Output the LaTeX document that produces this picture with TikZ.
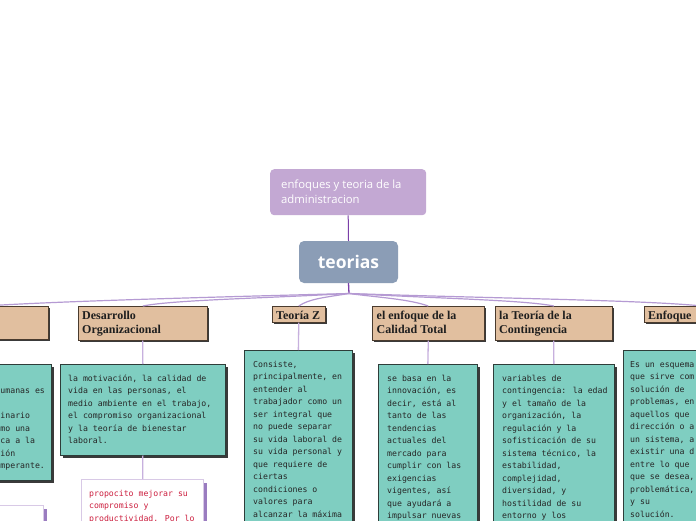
\documentclass[tikz,border=0pt]{standalone}
\usepackage{fontspec}
\setmainfont{Liberation Serif}
\newfontfamily\monof{DejaVu Sans Mono}
\newfontfamily\opensans{Open Sans}
\usetikzlibrary{shadows,calc}
\definecolor{rootc}{HTML}{C3A8D3}
\definecolor{teorc}{HTML}{8B9DB6}
\definecolor{tanfill}{HTML}{E1BF9F}
\definecolor{tanline}{HTML}{4A3B2E}
\definecolor{tealfill}{HTML}{7FCEC1}
\definecolor{tealline}{HTML}{2E3D39}
\definecolor{shadowc}{HTML}{3A3A3A}
\definecolor{txtc}{HTML}{262626}
\definecolor{pinkc}{HTML}{CC1F3F}
\definecolor{wline}{HTML}{D8C9E6}
\definecolor{wshadow}{HTML}{9A7CC0}
\definecolor{connc}{HTML}{C7B0DE}
\definecolor{fanc}{HTML}{B59AD3}
\definecolor{darkp}{HTML}{7B3FA8}
\begin{document}
\begin{tikzpicture}[x=1pt,y=-1pt,
  tanbox/.style={draw=tanline, line width=0.6pt, fill=tanfill, anchor=north west, inner sep=0pt,
    drop shadow={shadow xshift=1.8pt, shadow yshift=-1.8pt, fill=shadowc, opacity=1}},
  tealbox/.style={draw=tealline, line width=0.7pt, fill=tealfill, anchor=north west, inner sep=0pt,
    drop shadow={shadow xshift=2.2pt, shadow yshift=-2.2pt, fill=shadowc, opacity=1}},
  whitebox/.style={draw=wline, line width=1.4pt, fill=white, anchor=north west, inner sep=0pt,
    drop shadow={shadow xshift=2.8pt, shadow yshift=-2.8pt, fill=wshadow, opacity=1}},
  hdr/.style={anchor=north west, inner sep=0pt, align=left, text=black!88,
    font=\bfseries\fontsize{12}{14.5}\selectfont},
  bodytxt/.style={anchor=north west, inner sep=0pt, align=left, text=txtc,
    font=\monof\fontsize{8.2}{12.5}\selectfont},
  pinktxt/.style={bodytxt, text=pinkc},
  conn/.style={draw=connc, line width=1.3pt},
  fan/.style={draw=fanc, line width=1.2pt},
]
\useasboundingbox (0,0) rectangle (696,520);
\clip (0,0) rectangle (696,520);
\fill[white] (0,0) rectangle (696,520);

% root and center
\node[fill=rootc, rounded corners=4pt, anchor=north west, minimum width=156pt, minimum height=46pt, inner sep=0pt] (root) at (270,169) {};
\node[anchor=north west, inner sep=0pt, align=left, text=white, font=\opensans\fontsize{11.3}{15}\selectfont] (roottxt) at (281,178) {\strut enfoques y teoria de la\\administracion};
\node[fill=teorc, rounded corners=5pt, minimum width=99pt, minimum height=42pt, inner sep=0pt, text=white, font=\opensans\bfseries\fontsize{17.5}{20}\selectfont] (teorias) at (348.5,262) {teorias};
\coordinate (hub) at (349,293.5);

% headers
\node[tanbox, minimum width=128pt, minimum height=33pt] (h0) at (-80,306) {};
\node[tanbox, minimum width=129pt, minimum height=34pt] (h1) at (78,306) {};
\node[tanbox, minimum width=53pt, minimum height=16pt] (h2) at (272,306) {};
\node[tanbox, minimum width=112pt, minimum height=34pt] (h3) at (372,306) {};
\node[tanbox, minimum width=117pt, minimum height=34pt] (h4) at (495,306) {};
\node[tanbox, minimum width=116pt, minimum height=16pt] (h5) at (644,306) {};

\node[hdr] (t1) at ([shift={(4,2.9)}]h1.north west) {\strut Desarrollo\\Organizacional};
\node[hdr] (t2) at ([shift={(4,2.9)}]h2.north west) {\strut Teoría Z};
\node[hdr] (t3) at ([shift={(4.5,2.9)}]h3.north west) {\strut el enfoque de la\\Calidad Total};
\node[hdr] (t4) at ([shift={(4,2.9)}]h4.north west) {\strut la Teoría de la\\Contingencia};
\node[hdr] (t5) at ([shift={(4,2.9)}]h5.north west) {\strut Enfoque};

% teal boxes
\node[tealbox, minimum width=166pt, minimum height=116pt] (b0) at (-115,364) {};
\node[tealbox, minimum width=165pt, minimum height=91pt] (b1) at (60,364) {};
\node[tealbox, minimum width=108pt, minimum height=190pt] (b2) at (244,350) {};
\node[tealbox, minimum width=99pt, minimum height=180pt] (b3) at (378,364) {};
\node[tealbox, minimum width=121pt, minimum height=180pt] (b4) at (493,364) {};
\node[tealbox, minimum width=160pt, minimum height=190pt] (b5) at (623,350) {};

\node[bodytxt] (x0) at (0.3,372.25) {\strut\\umanas es\\\strut\\inario\\mo una\\ca a la\\ión\\mperante.};
\node[bodytxt] (x1) at ([shift={(8,8.25)}]b1.north west) {\strut la motivación, la calidad de\\vida en las personas, el\\medio ambiente en el trabajo,\\el compromiso organizacional\\y la teoría de bienestar\\laboral.};
\node[bodytxt] (x2) at ([shift={(9,8.25)}]b2.north west) {\strut Consiste,\\principalmente, en\\entender al\\trabajador como un\\ser integral que\\no puede separar\\su vida laboral de\\su vida personal y\\que requiere de\\ciertas\\condiciones o\\valores para\\alcanzar la máxima};
\node[bodytxt] (x3) at ([shift={(9,8.25)}]b3.north west) {\strut se basa en la\\innovación, es\\decir, está al\\tanto de las\\tendencias\\actuales del\\mercado para\\cumplir con las\\exigencias\\vigentes, así\\que ayudará a\\impulsar nuevas};
\node[bodytxt] (x4) at ([shift={(9,8.25)}]b4.north west) {\strut variables de\\contingencia: la edad\\y el tamaño de la\\organización, la\\regulación y la\\sofisticación de su\\sistema técnico, la\\estabilidad,\\complejidad,\\diversidad, y\\hostilidad de su\\entorno y los};
\node[bodytxt] (x5) at ([shift={(7,8.25)}]b5.north west) {\strut Es un esquema\\que sirve com\\solución de\\problemas, en\\aquellos que\\dirección o a\\un sistema, a\\existir una d\\entre lo que\\que se desea,\\problemática,\\y su\\solución.};

% white boxes
\node[whitebox, minimum width=123pt, minimum height=45pt] (w0) at (-80,505) {};
\node[whitebox, minimum width=122pt, minimum height=60pt] (w1) at (81,479) {};
\node[pinktxt] (p1) at ([shift={(8,8.25)}]w1.north west) {\strut propocito mejorar su\\compromiso y\\productividad. Por lo};

% connectors
\draw[draw=darkp, line width=1pt] (root.south) -- (teorias.north);
\draw[draw=darkp, line width=1.3pt] (teorias.south) -- (hub);
\draw[fan] (hub) .. controls +(-150,4) and +(80,-5) .. (h0.north);
\draw[fan] (hub) .. controls +(-90,5) and +(30,-6) .. (h1.north);
\draw[fan] (hub) .. controls +(-25,4) and +(10,-7) .. (h2.north);
\draw[fan] (hub) .. controls +(30,4) and +(-20,-7) .. (h3.north);
\draw[fan] (hub) .. controls +(90,5) and +(-30,-6) .. (h4.north);
\draw[fan] (hub) .. controls +(150,5) and +(-60,-6) .. (h5.north);

\draw[conn] (h0.south) -- (b0.north);
\draw[conn] (h1.south) -- (b1.north);
\draw[conn] (h2.south) -- (b2.north);
\draw[conn] (h3.south) -- (b3.north);
\draw[conn] (h4.south) -- (b4.north);
\draw[conn] (h5.south) -- (b5.north);
\draw[conn] (b0.south) -- (w0.north);
\draw[conn] (b1.south) -- (w1.north);
\end{tikzpicture}
\end{document}
